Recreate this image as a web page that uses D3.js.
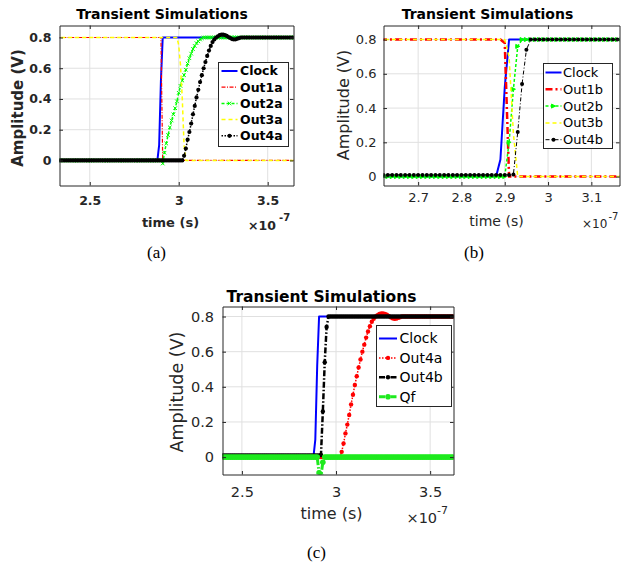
<!DOCTYPE html>
<html><head><meta charset="utf-8">
<script src="https://cdn.jsdelivr.net/npm/d3@7"></script>
<style>body{margin:0;background:#fff}svg{display:block}</style>
</head><body>
<svg id="chart" width="621" height="567"></svg>
<script>
// ---------- DATA (time in units of 1e-7 s) ----------
const time = [
2.30,2.31,2.32,2.33,2.34,2.35,2.36,2.37,2.38,2.39,
2.40,2.41,2.42,2.43,2.44,2.45,2.46,2.47,2.48,2.49,
2.50,2.51,2.52,2.53,2.54,2.55,2.56,2.57,2.58,2.59,
2.60,2.61,2.62,2.63,2.64,2.65,2.66,2.67,2.68,2.69,
2.70,2.71,2.72,2.73,2.74,2.75,2.76,2.77,2.78,2.79,
2.80,2.81,2.82,2.83,2.84,2.85,2.86,2.87,2.88,2.89,
2.90,2.91,2.92,2.93,2.94,2.95,2.96,2.97,2.98,2.99,
3.00,3.01,3.02,3.03,3.04,3.05,3.06,3.07,3.08,3.09,
3.10,3.11,3.12,3.13,3.14,3.15,3.16,3.17,3.18,3.19,
3.20,3.21,3.22,3.23,3.24,3.25,3.26,3.27,3.28,3.29,
3.30,3.31,3.32,3.33,3.34,3.35,3.36,3.37,3.38,3.39,
3.40,3.41,3.42,3.43,3.44,3.45,3.46,3.47,3.48,3.49,
3.50,3.51,3.52,3.53,3.54,3.55,3.56,3.57,3.58,3.59,
3.60,3.61,3.62,3.63,3.64,3.65,3.66,3.67,3.68,3.69,
3.70];

const clock = [
0,0,0,0,0,0,0,0,0,0,
0,0,0,0,0,0,0,0,0,0,
0,0,0,0,0,0,0,0,0,0,
0,0,0,0,0,0,0,0,0,0,
0,0,0,0,0,0,0,0,0,0,
0,0,0,0,0,0,0,0,0,.1,
.52,.8,.8,.8,.8,.8,.8,.8,.8,.8,
.8,.8,.8,.8,.8,.8,.8,.8,.8,.8,
.8,.8,.8,.8,.8,.8,.8,.8,.8,.8,
.8,.8,.8,.8,.8,.8,.8,.8,.8,.8,
.8,.8,.8,.8,.8,.8,.8,.8,.8,.8,
.8,.8,.8,.8,.8,.8,.8,.8,.8,.8,
.8,.8,.8,.8,.8,.8,.8,.8,.8,.8,
.8,.8,.8,.8,.8,.8,.8,.8,.8,.8,
.8];

const out1a = [
.8,.8,.8,.8,.8,.8,.8,.8,.8,.8,
.8,.8,.8,.8,.8,.8,.8,.8,.8,.8,
.8,.8,.8,.8,.8,.8,.8,.8,.8,.8,
.8,.8,.8,.8,.8,.8,.8,.8,.8,.8,
.8,.8,.8,.8,.8,.8,.8,.8,.8,.8,
.8,.8,.8,.8,.8,.8,.8,.8,.8,.8,
.8,0,0,0,0,0,0,0,0,0,
0,0,0,0,0,0,0,0,0,0,
0,0,0,0,0,0,0,0,0,0,
0,0,0,0,0,0,0,0,0,0,
0,0,0,0,0,0,0,0,0,0,
0,0,0,0,0,0,0,0,0,0,
0,0,0,0,0,0,0,0,0,0,
0,0,0,0,0,0,0,0,0,0,
0];

const out2a = [
0,0,0,0,0,0,0,0,0,0,
0,0,0,0,0,0,0,0,0,0,
0,0,0,0,0,0,0,0,0,0,
0,0,0,0,0,0,0,0,0,0,
0,0,0,0,0,0,0,0,0,0,
0,0,0,0,0,0,0,0,0,0,
0,-.02,.05,.11,.165,.215,.26,.3,.34,.385,
.44,.485,.52,.555,.59,.63,.665,.695,.725,.745,
.763,.775,.787,.795,.8,.8,.8,.8,.8,.8,
.8,.8,.8,.8,.8,.8,.8,.8,.8,.8,
.8,.8,.8,.8,.8,.8,.8,.8,.8,.8,
.8,.8,.8,.8,.8,.8,.8,.8,.8,.8,
.8,.8,.8,.8,.8,.8,.8,.8,.8,.8,
.8,.8,.8,.8,.8,.8,.8,.8,.8,.8,
.8];

const out3a = [
.8,.8,.8,.8,.8,.8,.8,.8,.8,.8,
.8,.8,.8,.8,.8,.8,.8,.8,.8,.8,
.8,.8,.8,.8,.8,.8,.8,.8,.8,.8,
.8,.8,.8,.8,.8,.8,.8,.8,.8,.8,
.8,.8,.8,.8,.8,.8,.8,.8,.8,.8,
.8,.8,.8,.8,.8,.8,.8,.8,.8,.8,
.8,.8,.8,.8,.8,.8,.8,.8,.8,.8,
.75,.62,.4,.1,0,0,0,0,0,0,
0,0,0,0,0,0,0,0,0,0,
0,0,0,0,0,0,0,0,0,0,
0,0,0,0,0,0,0,0,0,0,
0,0,0,0,0,0,0,0,0,0,
0,0,0,0,0,0,0,0,0,0,
0,0,0,0,0,0,0,0,0,0,
0];

const out4a = [
0,0,0,0,0,0,0,0,0,0,
0,0,0,0,0,0,0,0,0,0,
0,0,0,0,0,0,0,0,0,0,
0,0,0,0,0,0,0,0,0,0,
0,0,0,0,0,0,0,0,0,0,
0,0,0,0,0,0,0,0,0,0,
0,0,0,0,0,0,0,0,0,0,
0,0,0,.03,.077,.135,.185,.24,.3,.355,
.41,.46,.51,.555,.6,.64,.68,.715,.745,.77,
.787,.8,.808,.815,.818,.818,.815,.81,.803,.796,
.79,.787,.788,.792,.796,.8,.8,.8,.8,.8,
.8,.8,.8,.8,.8,.8,.8,.8,.8,.8,
.8,.8,.8,.8,.8,.8,.8,.8,.8,.8,
.8,.8,.8,.8,.8,.8,.8,.8,.8,.8,
.8];

const out1b = [
.8,.8,.8,.8,.8,.8,.8,.8,.8,.8,
.8,.8,.8,.8,.8,.8,.8,.8,.8,.8,
.8,.8,.8,.8,.8,.8,.8,.8,.8,.8,
.8,.8,.8,.8,.8,.8,.8,.8,.8,.8,
.8,.8,.8,.8,.8,.8,.8,.8,.8,.8,
.8,.8,.8,.8,.8,.8,.8,.8,.8,.8,
.78,0,0,0,0,0,0,0,0,0,
0,0,0,0,0,0,0,0,0,0,
0,0,0,0,0,0,0,0,0,0,
0,0,0,0,0,0,0,0,0,0,
0,0,0,0,0,0,0,0,0,0,
0,0,0,0,0,0,0,0,0,0,
0,0,0,0,0,0,0,0,0,0,
0,0,0,0,0,0,0,0,0,0,
0];

const out2b = [
0,0,0,0,0,0,0,0,0,0,
0,0,0,0,0,0,0,0,0,0,
0,0,0,0,0,0,0,0,0,0,
0,0,0,0,0,0,0,0,0,0,
0,0,0,0,0,0,0,0,0,0,
0,0,0,0,0,0,0,0,0,0,
0,.2,.51,.76,.8,.8,.8,.8,.8,.8,
.8,.8,.8,.8,.8,.8,.8,.8,.8,.8,
.8,.8,.8,.8,.8,.8,.8,.8,.8,.8,
.8,.8,.8,.8,.8,.8,.8,.8,.8,.8,
.8,.8,.8,.8,.8,.8,.8,.8,.8,.8,
.8,.8,.8,.8,.8,.8,.8,.8,.8,.8,
.8,.8,.8,.8,.8,.8,.8,.8,.8,.8,
.8,.8,.8,.8,.8,.8,.8,.8,.8,.8,
.8];

const out3b = [
.8,.8,.8,.8,.8,.8,.8,.8,.8,.8,
.8,.8,.8,.8,.8,.8,.8,.8,.8,.8,
.8,.8,.8,.8,.8,.8,.8,.8,.8,.8,
.8,.8,.8,.8,.8,.8,.8,.8,.8,.8,
.8,.8,.8,.8,.8,.8,.8,.8,.8,.8,
.8,.8,.8,.8,.8,.8,.8,.8,.8,.8,
.8,.7,.25,0,0,0,0,0,0,0,
0,0,0,0,0,0,0,0,0,0,
0,0,0,0,0,0,0,0,0,0,
0,0,0,0,0,0,0,0,0,0,
0,0,0,0,0,0,0,0,0,0,
0,0,0,0,0,0,0,0,0,0,
0,0,0,0,0,0,0,0,0,0,
0,0,0,0,0,0,0,0,0,0,
0];

const out4b = [
.01,.01,.01,.01,.01,.01,.01,.01,.01,.01,
.01,.01,.01,.01,.01,.01,.01,.01,.01,.01,
.01,.01,.01,.01,.01,.01,.01,.01,.01,.01,
.01,.01,.01,.01,.01,.01,.01,.01,.01,.01,
.01,.01,.01,.01,.01,.01,.01,.01,.01,.01,
.01,.01,.01,.01,.01,.01,.01,.01,.01,.01,
.01,.01,.012,.26,.54,.74,.8,.8,.8,.8,
.8,.8,.8,.8,.8,.8,.8,.8,.8,.8,
.8,.8,.8,.8,.8,.8,.8,.8,.8,.8,
.8,.8,.8,.8,.8,.8,.8,.8,.8,.8,
.8,.8,.8,.8,.8,.8,.8,.8,.8,.8,
.8,.8,.8,.8,.8,.8,.8,.8,.8,.8,
.8,.8,.8,.8,.8,.8,.8,.8,.8,.8,
.8,.8,.8,.8,.8,.8,.8,.8,.8,.8,
.8];

const qf = [
0,0,0,0,0,0,0,0,0,0,
0,0,0,0,0,0,0,0,0,0,
0,0,0,0,0,0,0,0,0,0,
0,0,0,0,0,0,0,0,0,0,
0,0,0,0,0,0,0,0,0,0,
0,0,0,0,0,0,0,0,0,0,
0,-.09,-.105,-.03,0,0,0,0,0,0,
0,0,0,0,0,0,0,0,0,0,
0,0,0,0,0,0,0,0,0,0,
0,0,0,0,0,0,0,0,0,0,
0,0,0,0,0,0,0,0,0,0,
0,0,0,0,0,0,0,0,0,0,
0,0,0,0,0,0,0,0,0,0,
0,0,0,0,0,0,0,0,0,0,
0];

const xTicksA = [2.5, 3, 3.5];
const xTicksB = [2.7, 2.8, 2.9, 3, 3.1];
const xTicksC = [2.5, 3, 3.5];
const yTicks = [0, 0.2, 0.4, 0.6, 0.8];
const titleText = "Transient Simulations";
const xLabelText = "time (s)";
const yLabelText = "Amplitude (V)";
const expBase = "\u00d710";
const expPower = "-7";
const captions = ["(a)", "(b)", "(c)"];

// ---------- DRAWING ----------
const FONT = "'DejaVu Sans', sans-serif";
const INK = "#262626";
const svg = d3.select("#chart");
svg.append("rect").attr("width", 621).attr("height", 567).attr("fill", "#fff");
const defs = svg.append("defs");

function markerPath(type, s) {
  if (type === "x") return `M${-s},${-s}L${s},${s}M${-s},${s}L${s},${-s}`;
  if (type === "tri") return `M${-s},${-s}L${s},0L${-s},${s}Z`;
  return null;
}

function drawMarkers(sel, pts, s) {
  if (s.marker === "circle") {
    sel.selectAll(null).data(pts).join("circle")
      .attr("cx", d => d[0]).attr("cy", d => d[1]).attr("r", s.msize)
      .attr("fill", s.color).attr("stroke", "none");
  } else {
    sel.selectAll(null).data(pts).join("path")
      .attr("d", markerPath(s.marker, s.msize))
      .attr("transform", d => `translate(${d[0]},${d[1]})`)
      .attr("fill", s.marker === "tri" ? s.color : "none")
      .attr("stroke", s.color).attr("stroke-width", 1);
  }
}

function text(g, str, x, y, o) {
  return g.append("text").attr("x", x).attr("y", y).text(str)
    .attr("font-family", o.family || FONT).attr("font-size", o.size)
    .attr("font-weight", o.bold ? "bold" : "normal")
    .attr("fill", o.fill || INK).attr("text-anchor", o.anchor || "start");
}

function panel(cfg) {
  const g = svg.append("g");
  const x = d3.scaleLinear().domain(cfg.xlim).range([cfg.left, cfg.right]);
  const y = d3.scaleLinear().domain(cfg.ylim).range([cfg.bottom, cfg.top]);
  const cid = "clip-" + cfg.id;
  defs.append("clipPath").attr("id", cid).append("rect")
    .attr("x", cfg.left).attr("y", cfg.top)
    .attr("width", cfg.right - cfg.left).attr("height", cfg.bottom - cfg.top);

  // grid
  g.append("g").selectAll("line").data(cfg.xticks).join("line")
    .attr("x1", d => x(d)).attr("x2", d => x(d)).attr("y1", cfg.top).attr("y2", cfg.bottom)
    .attr("stroke", "#e0e0e0").attr("stroke-width", 1);
  g.append("g").selectAll("line").data(yTicks).join("line")
    .attr("y1", d => y(d)).attr("y2", d => y(d)).attr("x1", cfg.left).attr("x2", cfg.right)
    .attr("stroke", "#e0e0e0").attr("stroke-width", 1);

  // series
  const plot = g.append("g").attr("clip-path", `url(#${cid})`);
  const line = d3.line().x(d => d[0]).y(d => d[1]);
  cfg.series.forEach(s => {
    const pts = time.map((t, i) => [x(t), y(s.values[i])]);
    plot.append("path").attr("d", line(pts)).attr("fill", "none")
      .attr("stroke", s.color).attr("stroke-width", s.width)
      .attr("stroke-dasharray", s.dash || null).attr("stroke-linejoin", "round");
    if (s.marker) drawMarkers(plot.append("g"), pts, s);
  });

  // axes
  const fmt = d => String(+d.toFixed(2));
  const style = (a) => {
    a.attr("font-family", FONT).attr("font-size", cfg.tick.size)
     .attr("font-weight", cfg.tick.bold ? "bold" : "normal");
    a.select(".domain").attr("stroke", INK).attr("stroke-width", 1);
    a.selectAll(".tick line").attr("stroke", INK);
    a.selectAll(".tick text").attr("fill", INK);
  };
  const T = 3.5;
  g.append("g").attr("transform", `translate(0,${cfg.bottom})`)
    .call(d3.axisBottom(x).tickValues(cfg.xticks).tickFormat(fmt).tickSizeInner(-T).tickSizeOuter(0).tickPadding(cfg.xPad)).call(style);
  g.append("g").attr("transform", `translate(0,${cfg.top})`)
    .call(d3.axisTop(x).tickValues(cfg.xticks).tickFormat("").tickSizeInner(-T).tickSizeOuter(0)).call(style);
  g.append("g").attr("transform", `translate(${cfg.left},0)`)
    .call(d3.axisLeft(y).tickValues(yTicks).tickFormat(fmt).tickSizeInner(-T).tickSizeOuter(0).tickPadding(cfg.yPad)).call(style);
  g.append("g").attr("transform", `translate(${cfg.right},0)`)
    .call(d3.axisRight(y).tickValues(yTicks).tickFormat("").tickSizeInner(-T).tickSizeOuter(0)).call(style);

  // title & labels
  text(g, titleText, cfg.title.x, cfg.title.y, {size: cfg.title.size, bold: true, anchor: "middle", fill: "#000"});
  text(g, xLabelText, cfg.xlabel.x, cfg.xlabel.y, {size: cfg.xlabel.size, bold: cfg.tick.bold, anchor: "middle"});
  text(g, yLabelText, 0, 0, {size: cfg.ylabel.size, bold: cfg.tick.bold, anchor: "middle"})
    .attr("dy", "0.35em")
    .attr("transform", `translate(${cfg.ylabel.x},${cfg.ylabel.y}) rotate(-90)`);
  text(g, expBase, cfg.exp.x, cfg.exp.y, {size: cfg.exp.size, bold: cfg.tick.bold});
  text(g, expPower, cfg.exp.sx, cfg.exp.sy, {size: cfg.exp.ssize, bold: cfg.tick.bold});
  text(g, cfg.caption.text, cfg.caption.x, cfg.caption.y,
       {size: 17, anchor: "middle", family: "'Liberation Serif', 'Times New Roman', serif", fill: "#000"});

  // legend
  const L = cfg.legend;
  const lg = g.append("g");
  lg.append("rect").attr("x", L.x).attr("y", L.y).attr("width", L.w).attr("height", L.h)
    .attr("fill", "#fff").attr("stroke", INK).attr("stroke-width", 1);
  cfg.series.forEach((s, i) => {
    const yy = L.first + i * L.step;
    lg.append("line").attr("x1", L.x1).attr("x2", L.x2).attr("y1", yy).attr("y2", yy)
      .attr("stroke", s.color).attr("stroke-width", s.width).attr("stroke-dasharray", s.dash || null);
    if (s.marker) drawMarkers(lg.append("g"), [[(L.x1 + L.x2) / 2, yy]], s);
    text(lg, s.name, L.tx, yy, {size: L.size, bold: cfg.tick.bold, fill: "#000"}).attr("dy", "0.35em");
  });
}

panel({
  id: "a", left: 59.5, right: 293.5, top: 25.5, bottom: 185.5,
  xlim: [2.33, 3.645], ylim: [-0.163, 0.878], xticks: xTicksA,
  tick: {size: 12.5, bold: true}, xPad: 11, yPad: 8,
  title: {x: 162, y: 18.5, size: 14},
  xlabel: {x: 170.5, y: 227, size: 13},
  ylabel: {x: 17.5, y: 108, size: 15},
  exp: {x: 248, y: 230, size: 12.5, sx: 279, sy: 221, ssize: 10},
  caption: {text: captions[0], x: 156.5, y: 258},
  legend: {x: 218.5, y: 62.5, w: 70, h: 84, first: 71, step: 16.2, x1: 221.5, x2: 237.5, tx: 240, size: 12.5},
  series: [
    {name: "Clock", values: clock, color: "#0000ff", width: 2},
    {name: "Out1a", values: out1a, color: "#ff0000", width: 1.2, dash: "4,1.5,1,1.5"},
    {name: "Out2a", values: out2a, color: "#00ff00", width: 1.5, dash: "3,2", marker: "x", msize: 1.8},
    {name: "Out3a", values: out3a, color: "#ffff00", width: 1.5, dash: "4,3"},
    {name: "Out4a", values: out4a, color: "#000000", width: 1.5, dash: "1.5,1.5", marker: "circle", msize: 2.1}
  ]
});

panel({
  id: "b", left: 383.5, right: 619.5, top: 25.5, bottom: 185.5,
  xlim: [2.62, 3.165], ylim: [-0.052, 0.882], xticks: xTicksB,
  tick: {size: 13, bold: false}, xPad: 7, yPad: 7,
  title: {x: 487.5, y: 18.5, size: 14},
  xlabel: {x: 496.5, y: 226, size: 14},
  ylabel: {x: 343.5, y: 105, size: 16},
  exp: {x: 582, y: 228, size: 12, sx: 608.5, sy: 220, ssize: 10},
  caption: {text: captions[1], x: 474, y: 258},
  legend: {x: 543.5, y: 63.5, w: 69, h: 85, first: 72.5, step: 16.8, x1: 545.5, x2: 561.5, tx: 563, size: 13},
  series: [
    {name: "Clock", values: clock, color: "#0000ff", width: 2},
    {name: "Out1b", values: out1b, color: "#ff0000", width: 2.5, dash: "7,3,2,3"},
    {name: "Out2b", values: out2b, color: "#00ff00", width: 1.5, dash: "3,2", marker: "tri", msize: 2},
    {name: "Out3b", values: out3b, color: "#ffff00", width: 1.5, dash: "4,3"},
    {name: "Out4b", values: out4b, color: "#000000", width: 1, dash: "4,2,1,2", marker: "circle", msize: 2}
  ]
});

panel({
  id: "c", left: 222.5, right: 453.5, top: 306.5, bottom: 474.5,
  xlim: [2.397, 3.624], ylim: [-0.099, 0.857], xticks: xTicksC,
  tick: {size: 14.5, bold: false}, xPad: 12, yPad: 8.5,
  title: {x: 321.5, y: 301.5, size: 15.5},
  xlabel: {x: 331.5, y: 519, size: 16},
  ylabel: {x: 177, y: 392, size: 17.5},
  exp: {x: 406.5, y: 523, size: 14.5, sx: 437, sy: 514, ssize: 11},
  caption: {text: captions[2], x: 316.5, y: 558},
  legend: {x: 376.5, y: 325.5, w: 75, h: 81, first: 338.5, step: 19.4, x1: 379, x2: 397, tx: 399.5, size: 14},
  series: [
    {name: "Clock", values: clock, color: "#0000ff", width: 2},
    {name: "Out4a", values: out4a, color: "#ff0000", width: 1.5, dash: "1.5,1.5", marker: "circle", msize: 2.2},
    {name: "Out4b", values: out4b, color: "#000000", width: 2.5, dash: "6,2,1.5,2", marker: "circle", msize: 2.2},
    {name: "Qf", values: qf, color: "#1eea1e", width: 3, dash: "6,2,1.5,2", marker: "circle", msize: 2.8}
  ]
});
</script>
</body></html>
